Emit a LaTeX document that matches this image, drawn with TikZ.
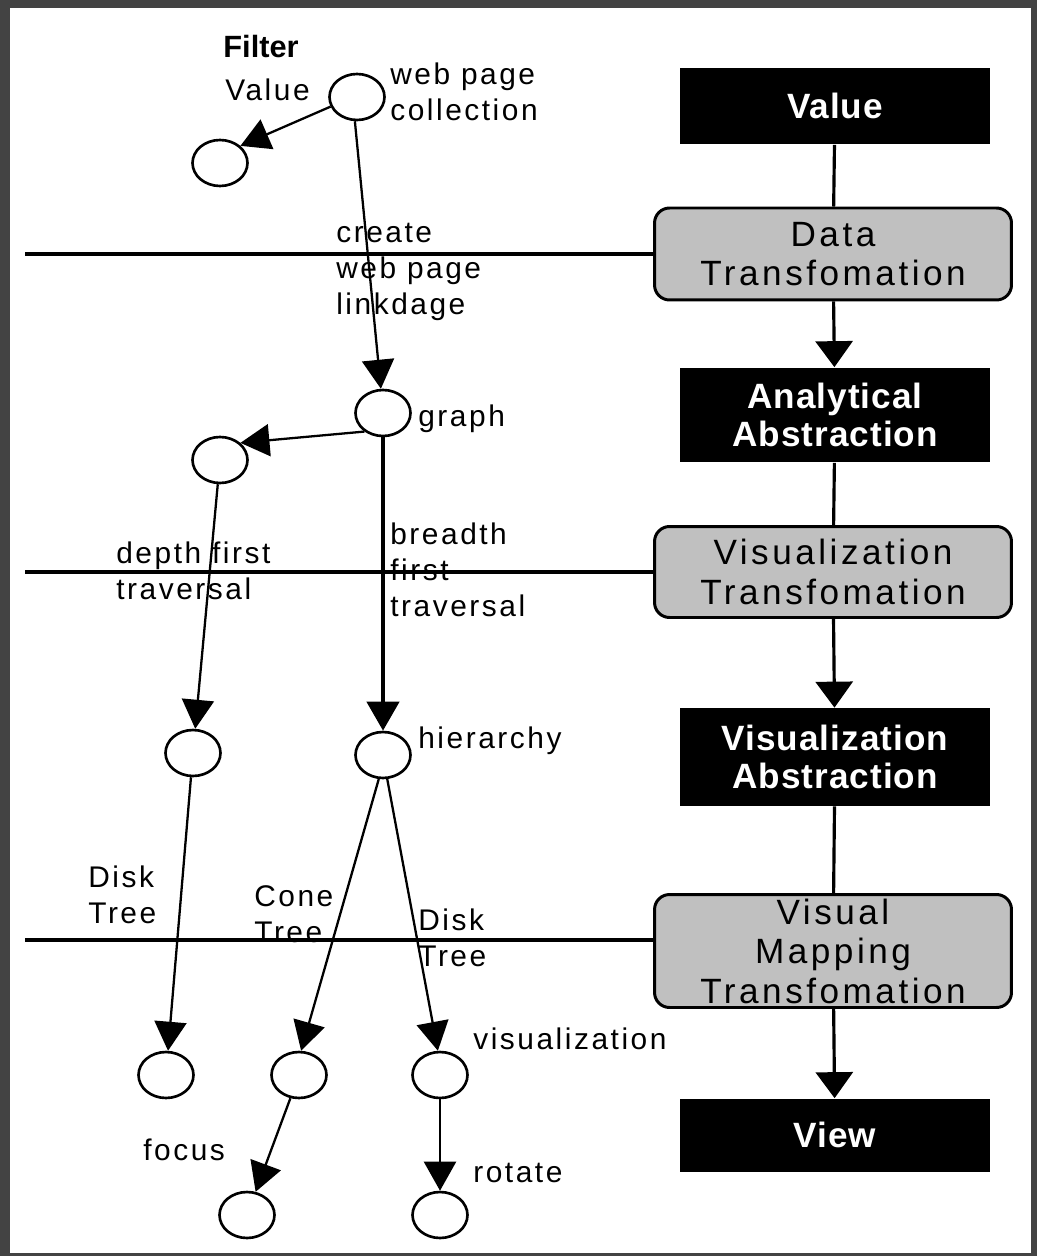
\documentclass[tikz,border=0pt]{standalone}
\usepackage{fontspec}
\setmainfont{Liberation Sans}
\newfontfamily\lblfont[LetterSpace=8.5]{Liberation Sans}
\newfontfamily\boxfont[LetterSpace=10]{Liberation Sans}
\newfontfamily\fasefont[LetterSpace=3]{Liberation Sans}
\usetikzlibrary{positioning, shapes.geometric, arrows.meta}

\definecolor{cornice}{HTML}{434343}
\definecolor{grigio}{HTML}{C0C0C0}

\tikzset{
  stato/.style={ellipse, draw, line width=1.5pt, minimum width=1.1cm, minimum height=0.92cm, inner sep=0pt},
  etichetta/.style={anchor=west, align=left, inner sep=0pt, font=\lblfont\fontsize{17}{20.5}\selectfont},
  fase/.style={rectangle, fill=black, text=white, minimum width=6.2cm, align=center, font=\fasefont\bfseries\fontsize{20}{22}\selectfont},
  trasf/.style={rectangle, rounded corners=0.3cm, draw, fill=grigio, line width=1.7pt, minimum width=7.14cm, align=center, inner sep=0pt, font=\boxfont\fontsize{20}{22.5}\selectfont},
  freccia/.style={-{Triangle[length=0.58cm, width=0.64cm]}, line width=1.3pt},
  fasefreccia/.style={-{Triangle[length=0.52cm, width=0.74cm]}, line width=1.8pt},
}

\begin{document}
\begin{tikzpicture}[x=0.02cm, y=-0.02cm]
  \useasboundingbox (0,0) rectangle (1037,1256);
  \fill[cornice] (0,0) rectangle (1037,1256);
  \fill[white] (10,8) rectangle (1031,1253);

  % Fasi del modello (colonna destra)
  \node[fase, minimum height=1.54cm] (value) at (835,106) {Value};
  \node[trasf, minimum height=1.84cm] (datat) at (833,254) {Data\\Transfomation};
  \node[fase, minimum height=1.9cm] (anabs) at (835,415) {Analytical\\Abstraction};
  \node[trasf, minimum height=1.82cm] (vist) at (833,572) {Visualization\\Transfomation};
  \node[fase, minimum height=1.96cm] (visabs) at (835,757) {Visualization\\Abstraction};
  \node[trasf, minimum height=2.26cm] (vmt) at (833,951) {Visual\\Mapping\\Transfomation};
  \node[fase, minimum height=1.46cm] (view) at (835,1135) {View};

  \draw[line width=1.8pt] (value) -- (datat);
  \draw[fasefreccia] (datat) -- (anabs);
  \draw[line width=1.8pt] (anabs) -- (vist);
  \draw[fasefreccia] (vist) -- (visabs);
  \draw[line width=1.8pt] (visabs) -- (vmt);
  \draw[fasefreccia] (vmt) -- (view);

  % Linee orizzontali verso le trasformazioni
  \coordinate (l1) at (25,254);
  \coordinate (l2) at (25,572);
  \coordinate (l3) at (25,940);
  \draw[line width=1.9pt] (l1) -- (l1 -| datat.west);
  \draw[line width=1.9pt] (l2) -- (l2 -| vist.west);
  \draw[line width=1.9pt] (l3) -- (l3 -| vmt.west);

  % Stati (colonna sinistra)
  \node[stato] (wpc) at (357,97) {};
  \node[stato] (fval) at (220,163) {};
  \node[stato] (graph) at (383,413) {};
  \node[stato] (dfs) at (220,460) {};
  \node[stato] (dfsh) at (193,753) {};
  \node[stato] (hier) at (383,755) {};
  \node[stato] (disk1) at (166,1075) {};
  \node[stato] (cone) at (299,1075) {};
  \node[stato] (disk2) at (440,1075) {};
  \node[stato] (focus) at (247,1215) {};
  \node[stato] (rotate) at (440,1215) {};

  % Etichette
  \node[anchor=center, inner sep=0pt, font=\bfseries\fontsize{17.5}{20}\selectfont] (filter) at (261,47) {Filter};
  \node[etichetta] (lval) at (225,90) {Value};
  \node[etichetta] (lwpc) at (390,92) {web page\\collection};
  \node[etichetta] (lcreate) at (336,272) {create\\web page\\linkdage};
  \node[etichetta] (lgraph) at (418,419) {graph};
  \node[etichetta] (ldfs) at (116,571) {depth first\\traversal};
  \node[etichetta] (lbfs) at (390,570) {breadth\\first\\traversal};
  \node[etichetta] (lhier) at (418,741) {hierarchy};
  \node[etichetta] (ldisk1) at (88,895) {Disk\\Tree};
  \node[etichetta] (lcone) at (254,914) {Cone\\Tree};
  \node[etichetta] (ldisk2) at (418,938) {Disk\\Tree};
  \node[etichetta] (lvis) at (473,1039) {visualization};
  \node[etichetta] (lfocus) at (143,1150) {focus};
  \node[etichetta] (lrot) at (473,1173) {rotate};

  % Archi
  \draw[freccia] (wpc.200) -- (fval.40);
  \draw[freccia] (wpc.265) -- (graph.95);
  \draw[freccia] (graph.225) -- (dfs.40);
  \draw[freccia, line width=2.5pt] (graph.south) -- (hier.north);
  \draw[freccia] (dfs) -- (dfsh);
  \draw[freccia] (dfsh) -- (disk1);
  \draw[freccia] (hier.260) -- (cone.85);
  \draw[freccia] (hier.280) -- (disk2.95);
  \draw[freccia] (cone) -- (focus);
  \draw[freccia] (disk2) -- (rotate);
\end{tikzpicture}
\end{document}
